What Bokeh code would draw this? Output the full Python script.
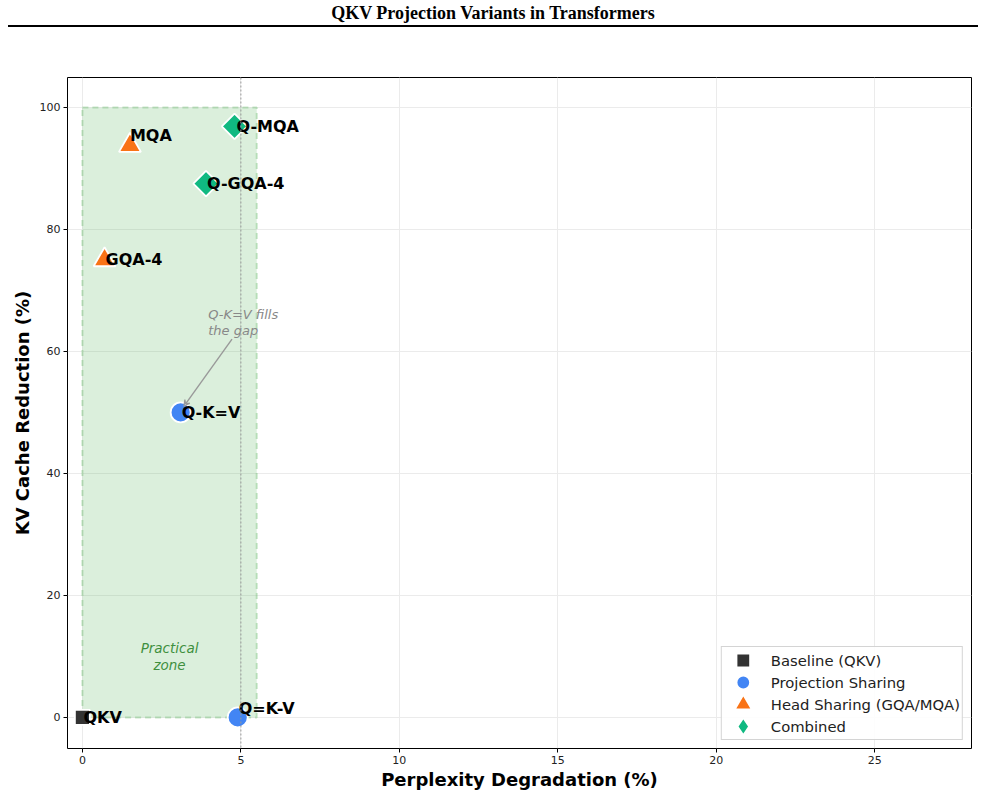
import math
from bokeh.plotting import figure
from bokeh.models import (ColumnDataSource, Span, Arrow, VeeHead, Div, Legend,
                          FixedTicker, Range1d)
from bokeh.layouts import column
from bokeh.core.properties import value
from bokeh.embed import file_html
from bokeh.resources import INLINE

# Variant positions: perplexity degradation (%) vs KV cache reduction (%)
names = ["QKV", "Q=K-V", "Q-K=V", "GQA-4", "MQA", "Q-GQA-4", "Q-MQA"]
ppl_degradation = [0.0, 4.9, 3.1, 0.7, 1.5, 3.9, 4.8]
kv_reduction = [0.0, 0.0, 50.0, 75.0, 93.75, 87.5, 96.9]
groups = ["Baseline (QKV)", "Projection Sharing", "Projection Sharing",
          "Head Sharing (GQA/MQA)", "Head Sharing (GQA/MQA)",
          "Combined", "Combined"]

group_order = ["Baseline (QKV)", "Projection Sharing",
               "Head Sharing (GQA/MQA)", "Combined"]
group_style = {
    "Baseline (QKV)": dict(marker="square", legend_marker="square",
                           color="#333333", size=15, angle=0.0),
    "Projection Sharing": dict(marker="circle", legend_marker="circle",
                               color="#4285F4", size=20, angle=0.0),
    "Head Sharing (GQA/MQA)": dict(marker="triangle", legend_marker="triangle",
                                   color="#F97316", size=22, angle=0.0),
    "Combined": dict(marker="square", legend_marker="diamond",
                     color="#10B981", size=18, angle=math.pi / 4),
}

# label offsets in screen pixels (x right, y down)
label_dx = [1, 1, 1, 1, 0, 1, 2]
label_dy = [0, -9, 0, 0, -10, 0, 0]

x_ticks = [0, 5, 10, 15, 20, 25]
y_ticks = [0, 20, 40, 60, 80, 100]

p = figure(width=985, height=769, output_backend="svg", toolbar_location=None,
           x_range=Range1d(-0.47, 28.05), y_range=Range1d(-5.1, 104.9),
           min_border_left=67, min_border_right=14, min_border_top=50,
           min_border_bottom=48)

p.outline_line_color = "black"
p.outline_line_width = 1
p.background_fill_color = "white"
p.xgrid.grid_line_color = "#ebebeb"
p.ygrid.grid_line_color = "#ebebeb"
p.xaxis.ticker = FixedTicker(ticks=x_ticks)
p.yaxis.ticker = FixedTicker(ticks=y_ticks)
for ax in (p.xaxis[0], p.yaxis[0]):
    ax.axis_line_color = None
    ax.major_tick_out = 4
    ax.major_tick_in = 0
    ax.minor_tick_line_color = None
    ax.major_label_text_font = "DejaVu Sans"
    ax.major_label_text_font_size = "11px"
    ax.major_label_text_color = "#222222"
    ax.major_label_standoff = 3
    ax.axis_label_text_font = "DejaVu Sans"
    ax.axis_label_text_font_style = "bold"
    ax.axis_label_text_font_size = "18px"
    ax.axis_label_text_color = "black"
p.xaxis.axis_label = "Perplexity Degradation (%)"
p.yaxis.axis_label = "KV Cache Reduction (%)"
p.xaxis.axis_label_standoff = 2
p.yaxis.axis_label_standoff = 4

# practical zone
p.quad(left=[0], right=[5.5], bottom=[0], top=[100],
       fill_color="#4CAF50", fill_alpha=0.2,
       line_color="#4CAF50", line_alpha=0.3, line_width=2, line_dash="6 4")
p.text(x=[2.75], y=[10], text=["Practical\nzone"], text_align="center",
       text_baseline="middle", text_font=value("DejaVu Sans"),
       text_font_style="italic", text_font_size="13.5px", text_color="#3f8f3f",
       text_line_height=1.1)

# 5% threshold
p.add_layout(Span(location=5, dimension="height", line_color="#999999",
                  line_dash="2 2", line_width=1))

# markers per group, plus stand-ins that draw the legend swatches
legend_items = []
for g in group_order:
    idx = [i for i, gg in enumerate(groups) if gg == g]
    src = ColumnDataSource(dict(x=[ppl_degradation[i] for i in idx],
                                y=[kv_reduction[i] for i in idx]))
    st = group_style[g]
    p.scatter("x", "y", source=src, marker=st["marker"], size=st["size"],
              angle=st["angle"], fill_color=st["color"], line_color="white",
              line_width=1.8)
    proxy = p.scatter(x=[float("nan")], y=[float("nan")],
                      marker=st["legend_marker"], size=10,
                      fill_color=st["color"], line_color=st["color"],
                      line_width=3, line_join="miter")
    legend_items.append((g, [proxy]))

# point labels
lab = ColumnDataSource(dict(x=ppl_degradation, y=kv_reduction, t=names,
                            dx=label_dx, dy=label_dy))
p.text(x="x", y="y", text="t", x_offset="dx", y_offset="dy", source=lab,
       text_align="left", text_baseline="middle",
       text_font=value("DejaVu Sans"), text_font_style="bold",
       text_font_size="16px", text_color="black")

# annotation
p.add_layout(Arrow(end=VeeHead(size=6, line_color="#999999", line_width=1.2,
                               fill_color=None),
                   x_start=4.72, y_start=62.0, x_end=3.2, y_end=51.0,
                   line_color="#999999", line_width=1.4))
p.text(x=[3.97], y=[67.2], text=["Q-K=V fills\nthe gap"], text_align="left",
       text_baseline="top", text_font=value("DejaVu Sans"),
       text_font_style="italic", text_font_size="13px", text_color="#888888",
       text_line_height=1.05)

legend = Legend(items=legend_items, location="bottom_right",
                label_text_font="DejaVu Sans", label_text_font_size="14.8px",
                label_text_color="#222222", label_standoff=9,
                glyph_width=38, glyph_height=22, label_height=20, spacing=0,
                padding=2, margin=8, border_line_color="#aaaaaa",
                border_line_width=1, background_fill_alpha=0.9)
p.add_layout(legend)

header = Div(text="QKV Projection Variants in Transformers", width=970,
             height=27, margin=(0, 0, 0, 8),
             styles={"font-family": "'Liberation Serif', 'DejaVu Serif', serif",
                     "font-weight": "bold", "font-size": "18px",
                     "text-align": "center", "border-bottom": "2px solid black",
                     "box-sizing": "border-box", "padding-top": "1px",
                     "width": "970px", "color": "black"})

layout = column(header, p, spacing=0)
with open("out.html", "w") as f:
    f.write(file_html(layout, INLINE))
